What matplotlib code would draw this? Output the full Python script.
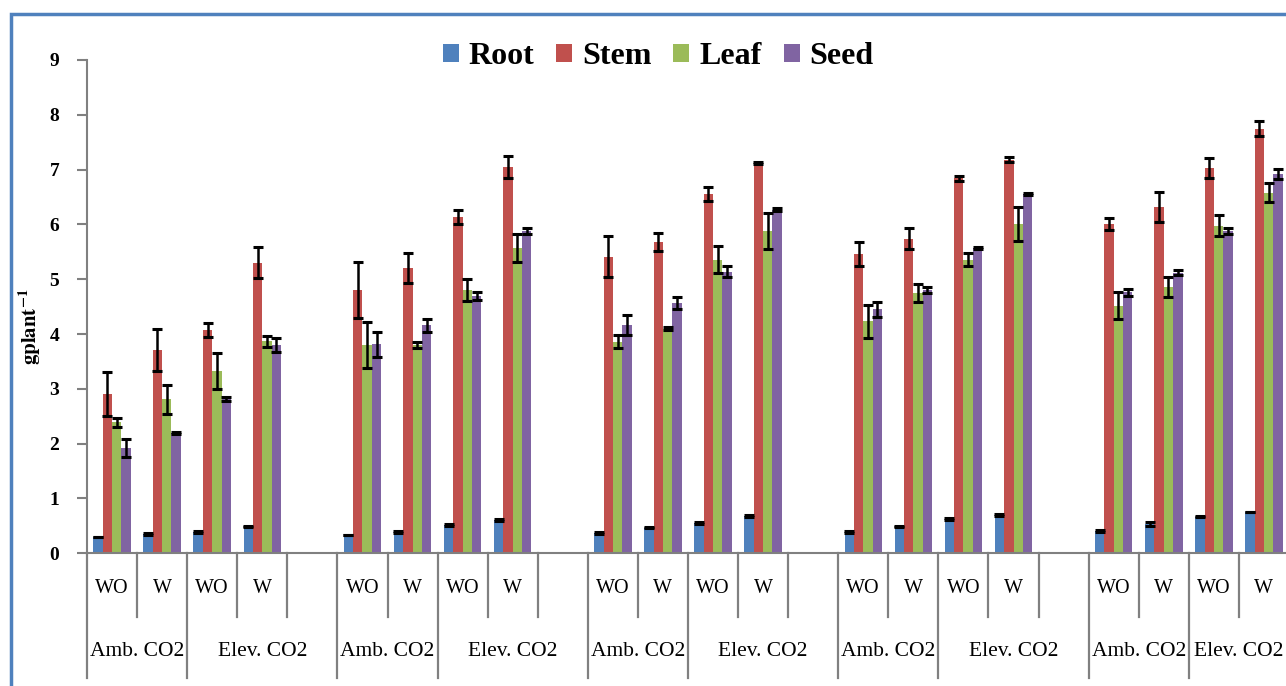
import matplotlib.pyplot as plt
from matplotlib.patches import Rectangle, Patch
from matplotlib.transforms import blended_transform_factory

# order inside each of the 5 groups: Amb WO, Amb W, Elev WO, Elev W
root = [0.29, 0.35, 0.39, 0.49, 0.34, 0.39, 0.52, 0.61, 0.37, 0.47, 0.55, 0.68,
        0.39, 0.49, 0.62, 0.70, 0.41, 0.53, 0.67, 0.75]
root_err = [0, 0.015, 0.015, 0.015, 0, 0.015, 0.015, 0.015, 0.015, 0.015, 0.015, 0.02,
            0.015, 0.015, 0.015, 0.02, 0.015, 0.035, 0.015, 0]
stem = [2.90, 3.71, 4.07, 5.30, 4.81, 5.20, 6.14, 7.04, 5.41, 5.68, 6.56, 7.12,
        5.46, 5.74, 6.84, 7.18, 6.01, 6.32, 7.03, 7.75]
stem_err = [0.40, 0.38, 0.13, 0.28, 0.51, 0.27, 0.13, 0.20, 0.37, 0.16, 0.13, 0.02,
            0.22, 0.19, 0.04, 0.05, 0.11, 0.28, 0.19, 0.13]
leaf = [2.39, 2.81, 3.33, 3.87, 3.80, 3.80, 4.80, 5.57, 3.86, 4.10, 5.36, 5.88,
        4.23, 4.75, 5.36, 6.00, 4.52, 4.86, 5.98, 6.58]
leaf_err = [0.08, 0.26, 0.33, 0.10, 0.42, 0.06, 0.20, 0.26, 0.12, 0.03, 0.24, 0.32,
            0.30, 0.17, 0.12, 0.31, 0.24, 0.19, 0.20, 0.17]
seed = [1.92, 2.20, 2.81, 3.80, 3.81, 4.16, 4.70, 5.88, 4.16, 4.56, 5.14, 6.27,
        4.45, 4.80, 5.57, 6.55, 4.76, 5.12, 5.88, 6.92]
seed_err = [0.17, 0.02, 0.04, 0.12, 0.22, 0.12, 0.07, 0.06, 0.18, 0.11, 0.10, 0.03,
            0.14, 0.06, 0.02, 0.02, 0.07, 0.04, 0.05, 0.09]

series = ["Root", "Stem", "Leaf", "Seed"]
colors = ["#4F81BD", "#C0504D", "#9BBB59", "#8064A2"]
water_labels = ["WO", "W", "WO", "W"]
co2_labels = ["Amb. CO2", "Elev. CO2"]
n_groups = 5

plt.rcParams["font.family"] = ["Liberation Serif", "DejaVu Serif"]
plt.rcParams["mathtext.fontset"] = "stix"

fig = plt.figure(figsize=(12.86, 6.86), dpi=100)
ax = fig.add_axes([87 / 1286, 1 - 553.3 / 686, 1202 / 1286, 493.3 / 686])

# slot of each bar group: 5 slots per group (4 used + 1 blank)
slots = [(i // 4) * 5 + i % 4 for i in range(len(root))]
w = 0.187
data = [root, stem, leaf, seed]
errs = [root_err, stem_err, leaf_err, seed_err]
for j, (vals, err, c) in enumerate(zip(data, errs, colors)):
    xs = [s + 0.5 + (j - 1.5) * w for s in slots]
    ax.bar(xs, vals, width=w, color=c, zorder=2)
    ax.errorbar(xs, vals, yerr=err, fmt="none", ecolor="black",
                elinewidth=1.8, capsize=3.8, capthick=2.2, zorder=3)

ax.set_xlim(0, 24)
ax.set_ylim(0, 9)
ax.set_yticks(range(10))
ax.set_yticklabels([str(v) for v in range(10)], fontsize=14, fontweight="bold")
ax.tick_params(axis="y", direction="out", length=7, width=1.5, color="#808080", pad=13)
ax.set_xticks([])
for s in ["top", "right"]:
    ax.spines[s].set_visible(False)
for s in ["left", "bottom"]:
    ax.spines[s].set_color("#808080")
    ax.spines[s].set_linewidth(1.5)

ax.set_ylabel("$\\mathbf{gplant^{-1}}$", fontsize=15)
ax.yaxis.set_label_coords(-0.037, 0.46)

# multi-level category axis
tr = blended_transform_factory(ax.transData, ax.transAxes)
short, long_ = -0.13, -0.252
for g in range(n_groups):
    base = g * 5
    for k in range(4):
        ax.text(base + k + 0.5, -0.072, water_labels[k], transform=tr,
                ha="center", va="center", fontsize=14.5)
    ax.text(base + 1.0, -0.2, co2_labels[0], transform=tr,
            ha="center", va="center", fontsize=15.5)
    elev_c = base + 3.5 if g < n_groups - 1 else base + 3.0
    ax.text(elev_c, -0.2, co2_labels[1], transform=tr,
            ha="center", va="center", fontsize=15.5)
    for k, ln in zip(range(5), [long_, short, long_, short, short]):
        if g == n_groups - 1 and k == 4:
            continue
        ax.plot([base + k, base + k], [0, ln], transform=tr, color="#808080",
                lw=1.6, clip_on=False)

handles = [Patch(facecolor=c) for c in colors]
fig.legend(handles, series, loc="center", bbox_to_anchor=(658 / 1286, 1 - 57 / 686),
           ncol=4, frameon=False, prop={"size": 23, "weight": "bold"},
           handlelength=0.5, handleheight=0.5, handletextpad=0.3, columnspacing=0.7)

# chart area border
fig.patches.append(Rectangle((11 / 1286, -0.2), 1.2, 1 - 14 / 686 + 0.2,
                             transform=fig.transFigure, fill=False,
                             edgecolor="#4F81BD", lw=2.5))

fig.savefig("out.png", dpi=100)
